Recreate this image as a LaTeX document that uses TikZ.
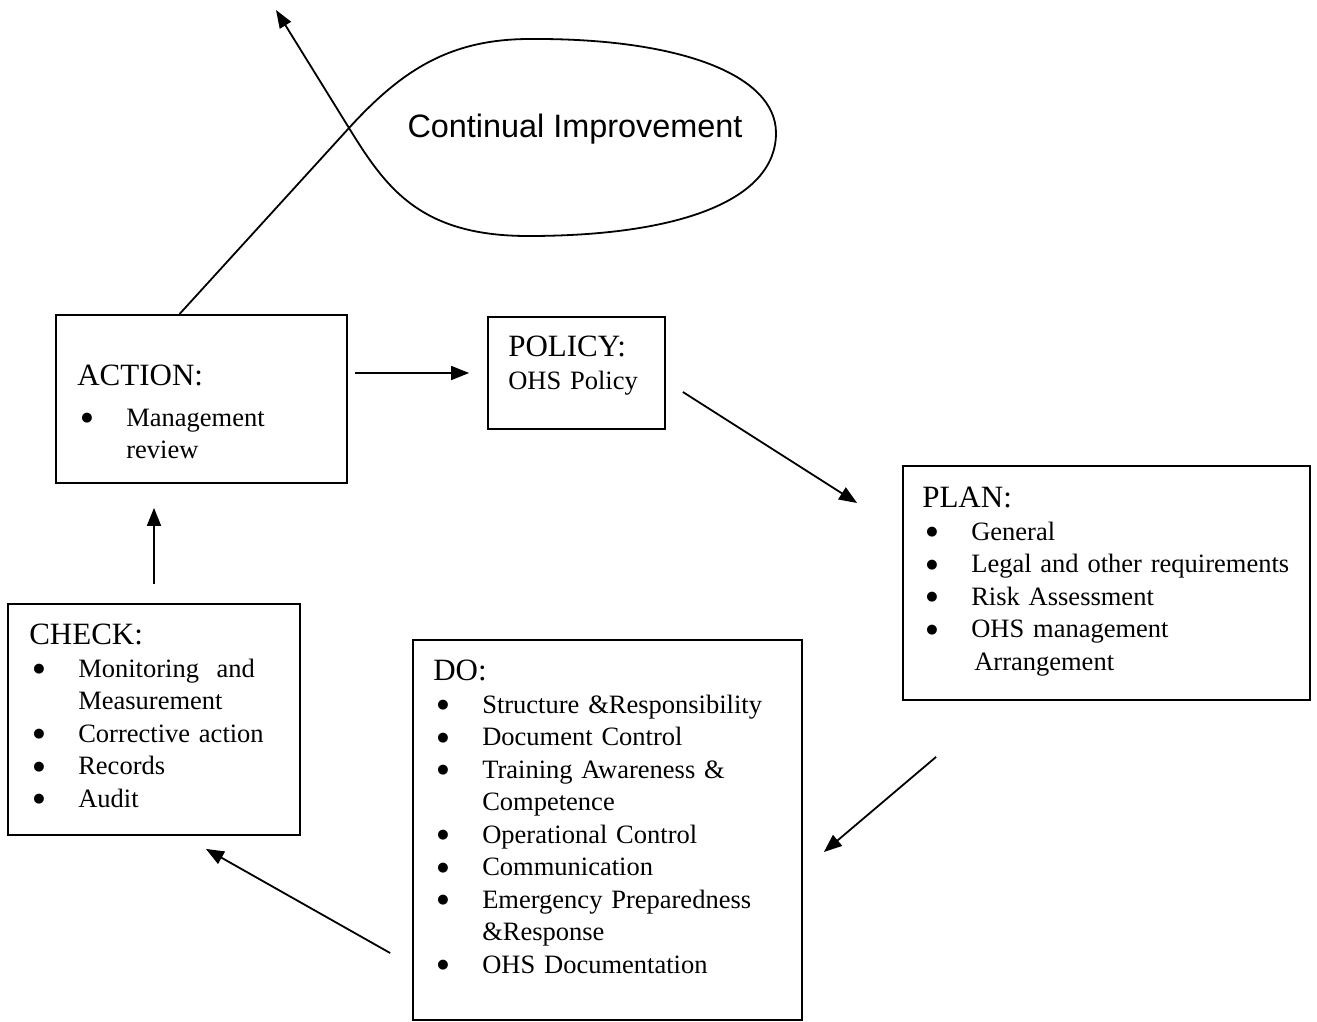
\documentclass[tikz,border=0pt]{standalone}
\usepackage{fontspec}
\setmainfont{Liberation Serif}
\newfontfamily\loopfont{Liberation Sans}
\newfontfamily\dotfont{DejaVu Sans}
\usetikzlibrary{arrows.meta,calc}

% heading and bullet lines inside the boxes
\newcommand{\head}[1]{\noindent{\fontsize{31}{33}\selectfont #1\par}}
\newcommand{\dotmark}{\raisebox{4.5pt}{\dotfont\fontsize{13}{13}\selectfont ●}}
\newcommand{\itm}[1]{\par\noindent\hspace*{4pt}\makebox[45pt][l]{\dotmark}#1}
\newcommand{\itmcont}[1]{\par\noindent\hspace*{49pt}#1}

\begin{document}
\begin{tikzpicture}[x=1pt,y=-1pt,
    box/.style={draw, line width=1.8pt, inner sep=0pt},
    boxtext/.style={anchor=north west, inner sep=0pt, text width=#1, align=left,
      font=\fontsize{26.5}{32.5}\selectfont},
    arr/.style={line width=1.8pt, -{Triangle[length=18pt,width=14pt]}}]

    \useasboundingbox (0,0) rectangle (1317,1022);

    % boxes
    \node[box, minimum width=291pt, minimum height=168pt] (action) at (201.5,399) {};
    \node[box, minimum width=177pt, minimum height=112pt] (policy) at (576.5,373) {};
    \node[box, minimum width=407pt, minimum height=234pt] (plan) at (1106.5,583) {};
    \node[box, minimum width=292pt, minimum height=231pt] (check) at (154,719.5) {};
    \node[box, minimum width=389pt, minimum height=380pt] (do) at (607.5,830) {};

    % box contents
    \node[boxtext=260pt] (actiontext) at ($(action.north west)+(22,51)$)
      {\head{ACTION:}\vspace{8pt}
       \itm{Management}
       \itmcont{review}};
    \node[boxtext=160pt] (policytext) at ($(policy.north west)+(21,20)$)
      {\head{POLICY:}OHS Policy};
    \node[boxtext=385pt] (plantext) at ($(plan.north west)+(20,22)$)
      {\head{PLAN:}
       \itm{General}
       \itm{Legal and other requirements}
       \itm{Risk Assessment}
       \itm{OHS management}
       \itmcont{\hspace*{3pt}Arrangement}};
    \node[boxtext=265pt] (checktext) at ($(check.north west)+(22,21)$)
      {\head{CHECK:}
       \itm{Monitoring\ \ and}
       \itmcont{Measurement}
       \itm{Corrective action}
       \itm{Records}
       \itm{Audit}};
    \node[boxtext=365pt] (dotext) at ($(do.north west)+(21,21)$)
      {\head{DO:}
       \itm{Structure \&Responsibility}
       \itm{Document Control}
       \itm{Training Awareness \&}
       \itmcont{Competence}
       \itm{Operational Control}
       \itm{Communication}
       \itm{Emergency Preparedness}
       \itmcont{\&Response}
       \itm{OHS Documentation}};

    % cycle arrows
    \draw[arr, shorten <=7pt, shorten >=18pt] (action.east |- policy.west) -- (policy.west);
    \draw[arr] ($(policy.east)+(17,19)$) -- ($(plan.west)+(-45,-80)$);
    \draw[arr] ($(plan.south west)+(34,56)$) -- ($(do.east)+(21,22)$);
    \draw[arr] ($(do.west)+(-22,123)$) -- ($(check.south east)+(-95,13)$);
    \draw[arr, shorten <=19pt, shorten >=24pt] (check.north) -- (check.north |- action.south);

    % improvement loop
    \node[font=\loopfont\fontsize{32.4}{36}\selectfont, anchor=base] (improve) at (575,138)
      {Continual Improvement};
    \draw[line width=1.8pt, -{Triangle[length=18pt,width=13pt]}]
      ($(action.north)+(-22,0)$) -- (349,128)
      .. controls (402,70) and (450,39) .. (530,39)
      .. controls (680,38) and (776,75) .. (776,133)
      .. controls (776,200) and (680,236) .. (528,236)
      .. controls (420,236) and (386,188) .. (349,128)
      -- (276,10);
\end{tikzpicture}
\end{document}
